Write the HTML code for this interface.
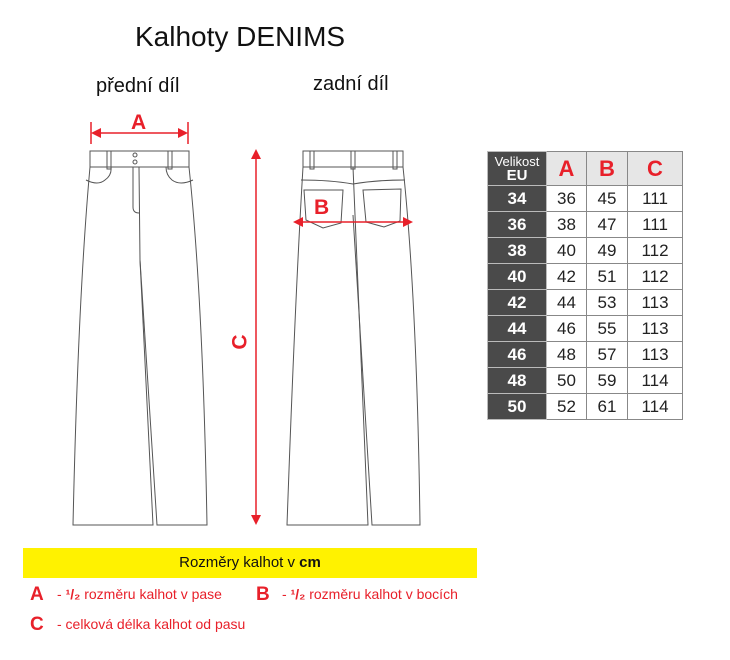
<!DOCTYPE html>
<html><head><meta charset="utf-8"><style>
body{margin:0;width:730px;height:660px;background:#fff;position:relative;font-family:"Liberation Sans",Arial,sans-serif;overflow:hidden}
.t{position:absolute;white-space:nowrap}
table{position:absolute;left:487px;top:151px;border-collapse:collapse}
td{border:1px solid #888;height:25px;text-align:center;font-size:17px;color:#222;padding:0}
td.l{background:#4a4a4a;color:#fff;font-weight:bold;width:58px;border-color:#bbb}
th{background:#e6e6e6;border:1px solid #888;color:#e8202a;font-size:22px;font-weight:900;height:33px;padding:0}
.r{color:#e8202a}
</style></head><body>
<div class="t" style="left:135px;top:21px;font-size:28px;color:#111">Kalhoty DENIMS</div>
<div class="t" style="left:96px;top:75px;font-size:20px;color:#111">přední díl</div>
<div class="t" style="left:313px;top:73px;font-size:20px;color:#111">zadní díl</div>
<svg width="730" height="660" style="position:absolute;left:0;top:0" fill="none" stroke="#555" stroke-width="1">
<path d="M90 151 L189 151 L189 167 L90 167 Z"/>
<path d="M90 167 Q78 300 73 525 L153 525 L140 260 L139 167"/>
<path d="M189 167 Q203 300 207 525 L157 525 L140 260"/>
<path d="M107 151 v18 h4 v-18 M168 151 v18 h4 v-18"/>
<path d="M86 180 Q98 186 105 180 Q112 175 111 167 M193 180 Q180 186 172 180 Q166 175 166 167"/>
<path d="M133 167 v40 Q133 213 139 213"/>
<circle cx="135" cy="155" r="2"/><circle cx="135" cy="162" r="2"/>
<path d="M303 151 L403 151 L403 167 L303 167 Z"/>
<path d="M303 167 Q295 300 287 525 L368 525 L353 167"/>
<path d="M403 167 Q417 300 420 525 L372 525 L353 215"/>
<path d="M310 151 v18 h4 v-18 M351 151 v18 h4 v-18 M393 151 v18 h4 v-18"/>
<path d="M301 180 Q330 180 353 184 Q376 180 405 180"/>
<path d="M304 190 L343 190 L341 223 L323 228 L306 220 Z"/>
<path d="M363 190 L401 189 L400 221 L384 227 L366 222 Z"/>
<g stroke="#e8202a" stroke-width="1.5" fill="#e8202a">
<path d="M91 122 v22 M188 122 v22 M95 133 H184"/>
<path d="M91 133 l10 -5 v10 z M188 133 l-10 -5 v10 z" stroke="none"/>
<path d="M256 154 V520"/>
<path d="M256 149 l-5 10 h10 z M256 525 l-5 -10 h10 z" stroke="none"/>
<path d="M298 222 H408"/>
<path d="M293 222 l10 -5 v10 z M413 222 l-10 -5 v10 z" stroke="none"/>
</g>
</svg>
<div class="t r" style="left:131px;top:111px;font-size:21px;font-weight:900">A</div>
<div class="t r" style="left:314px;top:196px;font-size:21px;font-weight:900">B</div>
<div class="t r" style="left:233px;top:330px;font-size:21px;font-weight:900;transform:rotate(-90deg)">C</div>
<table>
<tr><th style="background:#4a4a4a;color:#fff;font-size:13px;font-weight:normal;line-height:14px;border-color:#bbb">Velikost<br><b style="font-size:15px">EU</b></th><th style="width:39px">A</th><th style="width:40px">B</th><th style="width:54px">C</th></tr>
<tr><td class="l">34</td><td>36</td><td>45</td><td>111</td></tr>
<tr><td class="l">36</td><td>38</td><td>47</td><td>111</td></tr>
<tr><td class="l">38</td><td>40</td><td>49</td><td>112</td></tr>
<tr><td class="l">40</td><td>42</td><td>51</td><td>112</td></tr>
<tr><td class="l">42</td><td>44</td><td>53</td><td>113</td></tr>
<tr><td class="l">44</td><td>46</td><td>55</td><td>113</td></tr>
<tr><td class="l">46</td><td>48</td><td>57</td><td>113</td></tr>
<tr><td class="l">48</td><td>50</td><td>59</td><td>114</td></tr>
<tr><td class="l">50</td><td>52</td><td>61</td><td>114</td></tr>
</table>
<div class="t" style="left:23px;top:548px;width:454px;height:30px;background:#fff200;text-align:center;line-height:30px;font-size:15px;color:#111">Rozměry kalhot v <b>cm</b></div>
<div class="t r" style="left:30px;top:584px;font-size:19px;font-weight:900">A</div>
<div class="t r" style="left:57px;top:586px;font-size:14px">- <b>¹/₂</b> rozměru kalhot v pase</div>
<div class="t r" style="left:256px;top:584px;font-size:19px;font-weight:900">B</div>
<div class="t r" style="left:282px;top:586px;font-size:14px">- <b>¹/₂</b> rozměru kalhot v bocích</div>
<div class="t r" style="left:30px;top:614px;font-size:19px;font-weight:900">C</div>
<div class="t r" style="left:57px;top:616px;font-size:14px">- celková délka kalhot od pasu</div>
</body></html>
